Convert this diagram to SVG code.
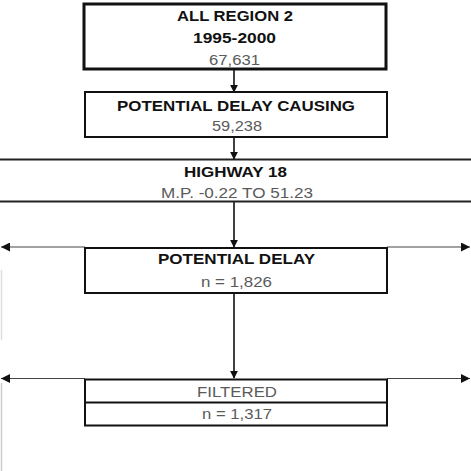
<svg xmlns="http://www.w3.org/2000/svg" width="471" height="471" viewBox="0 0 471 471">
<defs>
<style>
.box{fill:#fff;stroke:#111;stroke-width:2}
.b{font-family:"Liberation Sans",Arial,sans-serif;font-weight:bold;font-size:15.5px;fill:#111;text-anchor:middle}
.r{font-family:"Liberation Sans",Arial,sans-serif;font-size:15.5px;fill:#5a5a5a;text-anchor:middle}
.c{stroke:#111;stroke-width:1.6;fill:none}
.h{stroke:#444;stroke-width:1.2;fill:none}
</style>
<marker id="ah" viewBox="0 0 10 10" refX="9" refY="5" markerWidth="8" markerHeight="8" markerUnits="userSpaceOnUse" orient="auto">
<path d="M0,0 L10,5 L0,10 z" fill="#111"/>
</marker>
<marker id="ah2" viewBox="0 0 10 10" refX="10" refY="5" markerWidth="9" markerHeight="9" markerUnits="userSpaceOnUse" orient="auto">
<path d="M0,0 L10,5 L0,10 z" fill="#111"/>
</marker>
</defs>
<rect width="471" height="471" fill="#fff"/>
<line x1="1.5" y1="270" x2="1.5" y2="340" stroke="#ddd" stroke-width="1.5"/>
<line x1="1.5" y1="383" x2="1.5" y2="471" stroke="#ccc" stroke-width="1.5"/>
<g id="connectors">
<line class="c" x1="234" y1="70" x2="234" y2="92" marker-end="url(#ah)"/>
<line class="c" x1="234" y1="137" x2="234" y2="159" marker-end="url(#ah)"/>
<line class="c" x1="234" y1="202" x2="234" y2="247" marker-end="url(#ah)"/>
<line class="c" x1="234" y1="293" x2="234" y2="378" marker-end="url(#ah)"/>
<line class="h" x1="85" y1="247" x2="1" y2="247" marker-end="url(#ah2)"/>
<line class="h" x1="387" y1="247" x2="470" y2="247" marker-end="url(#ah2)"/>
<line class="h" x1="85" y1="378.5" x2="1" y2="378.5" marker-end="url(#ah2)"/>
<line class="h" x1="387" y1="378.5" x2="470" y2="378.5" marker-end="url(#ah2)"/>
</g>
<g id="all-region">
<rect class="box" x="84" y="4" width="302" height="65" style="stroke-width:3"/>
<text class="b" x="235" y="20.7" textLength="116" lengthAdjust="spacingAndGlyphs">ALL REGION 2</text>
<text class="b" x="234.5" y="42.7" textLength="83" lengthAdjust="spacingAndGlyphs">1995-2000</text>
<text class="r" x="234.5" y="64.5" textLength="51" lengthAdjust="spacingAndGlyphs">67,631</text>
</g>
<g id="potential-delay-causing">
<rect class="box" x="85" y="92" width="302" height="45"/>
<text class="b" x="236" y="111" textLength="238" lengthAdjust="spacingAndGlyphs">POTENTIAL DELAY CAUSING</text>
<text class="r" x="237" y="131" textLength="50" lengthAdjust="spacingAndGlyphs">59,238</text>
</g>
<g id="highway">
<line x1="0" y1="159.5" x2="471" y2="159.5" stroke="#222" stroke-width="2"/>
<line x1="0" y1="201.5" x2="471" y2="201.5" stroke="#222" stroke-width="2"/>
<text class="b" x="235.5" y="176.5" textLength="103" lengthAdjust="spacingAndGlyphs">HIGHWAY 18</text>
<text class="r" x="237" y="197.5" textLength="152" lengthAdjust="spacingAndGlyphs">M.P. -0.22 TO 51.23</text>
</g>
<g id="potential-delay">
<rect class="box" x="85" y="248" width="302" height="45"/>
<text class="b" x="236.5" y="264" textLength="157" lengthAdjust="spacingAndGlyphs">POTENTIAL DELAY</text>
<text class="r" x="236.5" y="286.5" textLength="71" lengthAdjust="spacingAndGlyphs">n = 1,826</text>
</g>
<g id="filtered">
<rect class="box" x="85" y="379.5" width="302" height="46"/>
<line x1="85" y1="402.5" x2="387" y2="402.5" stroke="#111" stroke-width="2"/>
<text class="r" x="237" y="396.5" textLength="80" lengthAdjust="spacingAndGlyphs">FILTERED</text>
<text class="r" x="237" y="419" textLength="70" lengthAdjust="spacingAndGlyphs">n = 1,317</text>
</g>
</svg>
